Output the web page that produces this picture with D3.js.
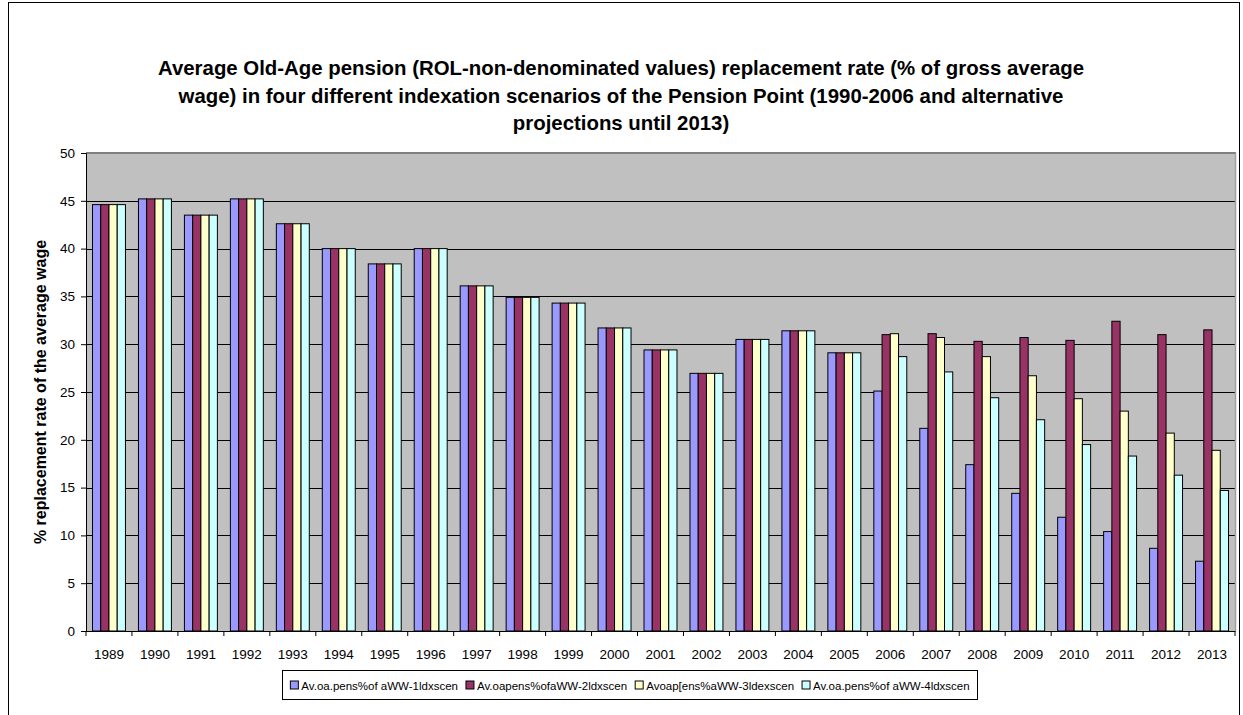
<!DOCTYPE html>
<html>
<head>
<meta charset="utf-8">
<script src="https://cdn.jsdelivr.net/npm/d3@7"></script>
<style>
  html, body { margin: 0; padding: 0; background: #fff; }
  svg { display: block; font-family: Arial, "Liberation Sans", sans-serif; }
</style>
</head>
<body>
<svg id="chart" width="1243" height="715"></svg>
<script>
const years = ["1989","1990","1991","1992","1993","1994","1995","1996","1997","1998","1999","2000","2001","2002","2003","2004","2005","2006","2007","2008","2009","2010","2011","2012","2013"];
const seriesNames = ["Av.oa.pens%of aWW-1ldxscen", "Av.oapens%ofaWW-2ldxscen", "Avoap[ens%aWW-3ldexscen", "Av.oa.pens%of aWW-4ldxscen"];
const scen1 = [44.6,45.2,43.5,45.2,42.6,40.0,38.4,40.0,36.1,34.9,34.3,31.7,29.4,26.95,30.5,31.4,29.1,25.1,21.2,17.4,14.4,11.9,10.4,8.65,7.3];
const scen2 = [44.6,45.2,43.5,45.2,42.6,40.0,38.4,40.0,36.1,34.9,34.3,31.7,29.4,26.95,30.5,31.4,29.1,31.0,31.1,30.3,30.7,30.4,32.4,31.0,31.5];
const scen3 = [44.6,45.2,43.5,45.2,42.6,40.0,38.4,40.0,36.1,34.9,34.3,31.7,29.4,26.95,30.5,31.4,29.1,31.1,30.7,28.7,26.7,24.3,23.0,20.7,18.9];
const scen4 = [44.6,45.2,43.5,45.2,42.6,40.0,38.4,40.0,36.1,34.9,34.3,31.7,29.4,26.95,30.5,31.4,29.1,28.7,27.1,24.4,22.1,19.5,18.3,16.3,14.7];
const yTicks = [0,5,10,15,20,25,30,35,40,45,50];
const titleLines = ["Average Old-Age pension (ROL-non-denominated values) replacement rate (% of gross average", "wage) in four different indexation scenarios of the Pension Point (1990-2006 and alternative", "projections until 2013)"];
const yTitle = "% replacement rate of the average wage";
const colors = ["#9999FF", "#993366", "#FFFFCC", "#CCFFFF"];

const allSeries = [scen1, scen2, scen3, scen4];
const svg = d3.select("#chart");

const plot = { left: 86, right: 1235, top: 153, bottom: 631 };

// outer chart border
svg.append("rect").attr("x", 8.5).attr("y", 2.5).attr("width", 1231).attr("height", 730)
  .attr("fill", "none").attr("stroke", "#000").attr("stroke-width", 1);

// title
const title = svg.append("text").attr("text-anchor", "middle").attr("font-weight", "bold").attr("font-size", 20.4).attr("fill", "#000");
titleLines.forEach((t, i) => {
  title.append("tspan").attr("x", 621).attr("y", 75 + i * 27.5).text(t);
});

const x0 = d3.scaleBand().domain(years).range([plot.left, plot.right]).paddingInner(0.283).paddingOuter(0.1415);
const x1 = d3.scaleBand().domain(d3.range(4)).range([0, x0.bandwidth()]);
const y = d3.scaleLinear().domain([0, 50]).range([plot.bottom, plot.top]);

// plot background
svg.append("rect").attr("x", plot.left).attr("y", plot.top).attr("width", plot.right - plot.left).attr("height", plot.bottom - plot.top)
  .attr("fill", "#C0C0C0");

// gridlines
svg.append("g").selectAll("line").data(yTicks.filter(d => d > 0 && d < 50)).join("line")
  .attr("x1", plot.left).attr("x2", plot.right)
  .attr("y1", d => Math.round(y(d)) + 0.5).attr("y2", d => Math.round(y(d)) + 0.5)
  .attr("stroke", "#000").attr("stroke-width", 1);

// top & right border of plot
svg.append("line").attr("x1", plot.left).attr("x2", plot.right + 1).attr("y1", plot.top).attr("y2", plot.top)
  .attr("stroke", "#808080").attr("stroke-width", 2);
svg.append("line").attr("x1", plot.right + 0.5).attr("x2", plot.right + 0.5).attr("y1", plot.top).attr("y2", plot.bottom)
  .attr("stroke", "#a0a0a0").attr("stroke-width", 1.5);

// bars
const groups = svg.append("g").selectAll("g").data(years).join("g")
  .attr("transform", d => `translate(${x0(d)},0)`);
groups.selectAll("rect").data((d, i) => allSeries.map((s, k) => ({ k, v: s[i] }))).join("rect")
  .attr("x", d => x1(d.k))
  .attr("y", d => y(d.v))
  .attr("width", x1.bandwidth())
  .attr("height", d => y(0) - y(d.v))
  .attr("fill", d => colors[d.k])
  .attr("stroke", "#000").attr("stroke-width", 1);

// y axis
const yAxis = d3.axisLeft(y).tickValues(yTicks).tickSize(5).tickPadding(6).tickFormat(d3.format("d"));
const yg = svg.append("g").attr("transform", `translate(${plot.left},0)`).call(yAxis);
yg.select(".domain").attr("stroke", "#000");
yg.selectAll(".tick line").attr("stroke", "#000");
yg.selectAll("text").attr("font-size", 13.5).attr("font-family", "Arial, 'Liberation Sans', sans-serif").attr("fill", "#000");

// x axis
const xAxis = d3.axisBottom(x0).tickSize(0).tickPadding(18);
const xg = svg.append("g").attr("transform", `translate(0,${plot.bottom})`).call(xAxis);
xg.select(".domain").attr("stroke", "#000");
xg.selectAll("text").attr("font-size", 13.5).attr("font-family", "Arial, 'Liberation Sans', sans-serif").attr("fill", "#000");
// category boundary ticks
const step = x0.step();
xg.append("g").selectAll("line").data(d3.range(years.length + 1)).join("line")
  .attr("x1", i => plot.left + i * step).attr("x2", i => plot.left + i * step)
  .attr("y1", 0).attr("y2", 5).attr("stroke", "#000");

// y title
svg.append("text").attr("transform", `translate(46,${(plot.top + plot.bottom) / 2}) rotate(-90)`)
  .attr("text-anchor", "middle").attr("font-weight", "bold").attr("font-size", 16).attr("fill", "#000")
  .text(yTitle);

// legend
const legBox = svg.append("rect");
const legend = svg.append("g");
const items = legend.selectAll("g").data(seriesNames).join("g");
items.append("rect").attr("width", 8).attr("height", 8).attr("fill", (d, i) => colors[i]).attr("stroke", "#000").attr("stroke-width", 1);
items.append("text").attr("x", 11).attr("y", 8.5).attr("font-size", 11.5).attr("fill", "#000").text(d => d);
let cx = 0;
const widths = [];
items.each(function () { widths.push(this.getBBox().width); });
items.attr("transform", (d, i) => { const t = `translate(${cx},0)`; cx += widths[i] + 8; return t; });
const totalW = cx - 8;
const legX = 630 - totalW / 2;
const legY = 681;
legend.attr("transform", `translate(${legX},${legY})`);
legBox.attr("x", Math.round(legX - 8) + 0.5).attr("y", legY - 10.5)
  .attr("width", Math.round(totalW + 16)).attr("height", 29)
  .attr("fill", "#fff").attr("stroke", "#000").attr("stroke-width", 1);
</script>
</body>
</html>
